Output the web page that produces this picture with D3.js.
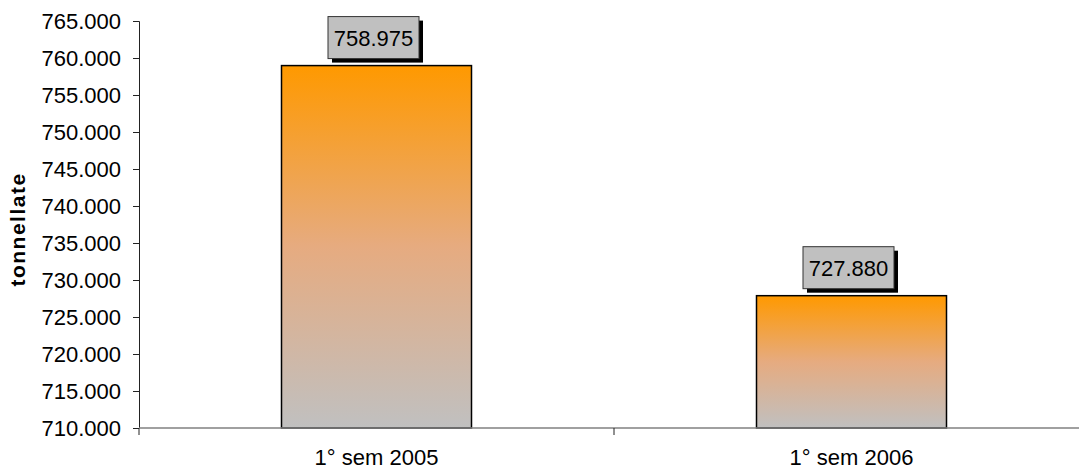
<!DOCTYPE html>
<html>
<head>
<meta charset="utf-8">
<script src="https://cdn.jsdelivr.net/npm/d3@7"></script>
<style>
  html, body { margin: 0; padding: 0; background: #fff; }
  svg { display: block; font-family: "Liberation Sans", Arial, sans-serif; }
</style>
</head>
<body>
<svg id="chart" width="1079" height="470"></svg>
<script>
// Quantità in tonnellate per semestre
const categories = ["1° sem 2005", "1° sem 2006"];
const values = [758975, 727880];
const tickValues = [710000, 715000, 720000, 725000, 730000, 735000, 740000, 745000, 750000, 755000, 760000, 765000];
const yTitle = "tonnellate";

const svg = d3.select("#chart");
const plotLeft = 139, plotRight = 1089, plotTop = 21, plotBottom = 428;

const fmt = v => d3.format(",")(v).replace(/,/g, ".");

const x = d3.scaleBand().domain(categories).range([plotLeft, plotRight]).paddingInner(0.6).paddingOuter(0.3);
const y = d3.scaleLinear().domain([710000, 765000]).range([plotBottom, plotTop]);

// gradient: arancio in alto, grigio in basso
const defs = svg.append("defs");
const grad = defs.append("linearGradient").attr("id", "barGrad")
  .attr("x1", 0).attr("y1", 0).attr("x2", 0).attr("y2", 1);
grad.append("stop").attr("offset", "0%").attr("stop-color", "#ff9900");
grad.append("stop").attr("offset", "50%").attr("stop-color", "#e6ab80");
grad.append("stop").attr("offset", "100%").attr("stop-color", "#c0c0c0");

// asse Y
const yAxis = svg.append("g").attr("transform", `translate(${plotLeft},0)`)
  .call(d3.axisLeft(y).tickValues(tickValues).tickFormat(fmt).tickSizeOuter(0).tickSize(6).tickPadding(12));
yAxis.select(".domain").attr("stroke", "#222").attr("stroke-width", 1);
yAxis.selectAll(".tick line").attr("stroke", "#222");
yAxis.selectAll(".tick text").attr("font-size", 22).attr("fill", "#000")
  .attr("font-family", "Liberation Sans, Arial, sans-serif");
// piccola tacca sotto l'origine
yAxis.append("line").attr("x1", 0).attr("x2", 0).attr("y1", plotBottom).attr("y2", plotBottom + 7).attr("stroke", "#222");

// barre
svg.append("g").selectAll("rect").data(values).join("rect")
  .attr("x", (d, i) => x(categories[i]))
  .attr("width", x.bandwidth())
  .attr("y", d => y(d))
  .attr("height", d => y(710000) - y(d))
  .attr("fill", "url(#barGrad)")
  .attr("stroke", "#000")
  .attr("stroke-width", 1.5);

// asse X
const xAxis = svg.append("g").attr("transform", `translate(0,${plotBottom})`);
xAxis.append("line").attr("x1", plotLeft).attr("x2", plotRight).attr("y1", 0).attr("y2", 0)
  .attr("stroke", "#808080").attr("stroke-width", 1.5);
const boundaries = categories.slice(1).map(c => x(c) - x.step() * x.paddingInner() / 2);
xAxis.selectAll("line.tick").data(boundaries).join("line").attr("class", "tick")
  .attr("x1", d => d).attr("x2", d => d).attr("y1", 0).attr("y2", 7).attr("stroke", "#222");
xAxis.selectAll("text").data(categories).join("text")
  .attr("x", d => x(d) + x.bandwidth() / 2)
  .attr("y", 37)
  .attr("text-anchor", "middle")
  .attr("font-size", 22)
  .attr("fill", "#000")
  .text(d => d);

// etichette dei valori
const labels = svg.append("g").selectAll("g").data(values).join("g")
  .attr("transform", (d, i) => `translate(${x(categories[i]) + x.bandwidth() / 2 - 3},${y(d) - 28})`);
const bw = 91, bh = 42;
labels.append("rect").attr("x", -bw / 2 + 4).attr("y", -bh / 2 + 4).attr("width", bw).attr("height", bh).attr("fill", "#000");
labels.append("rect").attr("x", -bw / 2).attr("y", -bh / 2).attr("width", bw).attr("height", bh)
  .attr("fill", "#c0c0c0").attr("stroke", "#333").attr("stroke-width", 1);
labels.append("text").attr("text-anchor", "middle").attr("dy", "0.36em")
  .attr("font-size", 22).attr("fill", "#000").text(d => fmt(d));

// titolo asse Y
svg.append("text")
  .attr("transform", `translate(25,${(plotTop + plotBottom) / 2 + 5}) rotate(-90)`)
  .attr("text-anchor", "middle")
  .attr("font-size", 21)
  .attr("font-weight", "bold")
  .attr("letter-spacing", 1.5)
  .attr("fill", "#000")
  .text(yTitle);
</script>
</body>
</html>
